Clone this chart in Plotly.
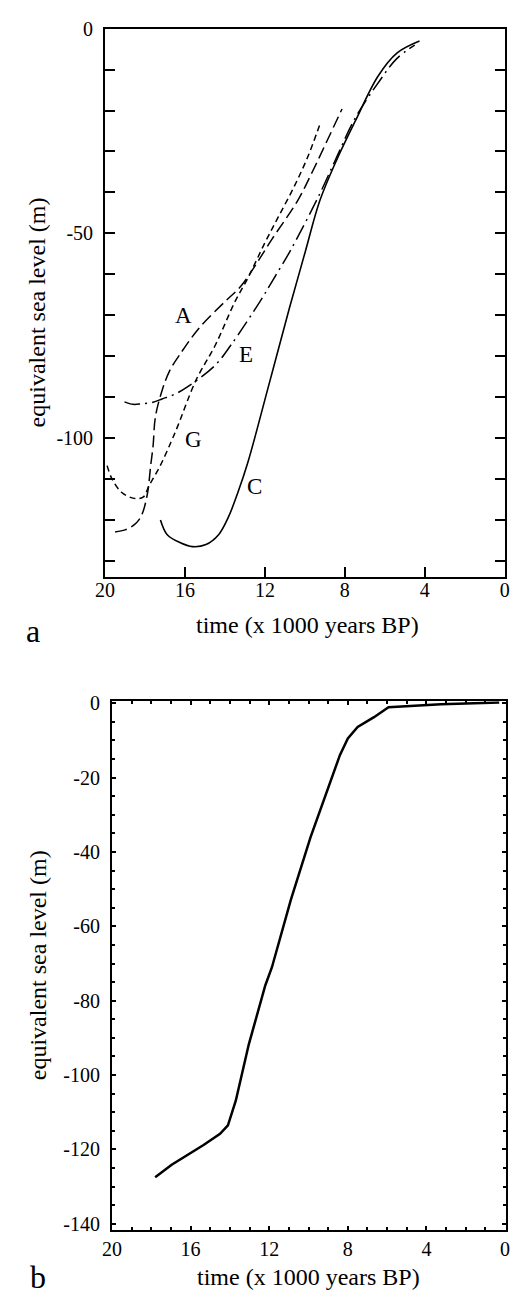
import plotly.graph_objects as go

# panel a: equivalent sea level curves (time in kyr BP, level in m)
t_A = [19.5, 19.0, 18.55, 18.3, 18.1, 17.87, 17.72, 17.6, 17.48, 17.14, 16.76, 16.27, 15.3, 14.0, 13.2, 12.5, 11.67, 10.36, 9.6, 8.9, 8.14]
v_A = [-123, -122.5, -121.3, -120, -118, -113.3, -106.8, -102, -94.8, -88.3, -83.5, -79.7, -73.2, -66.7, -62.9, -58, -51.6, -42, -34.7, -27.5, -19.6]

t_G = [19.9, 19.66, 19.18, 18.55, 18.1, 17.8, 17.24, 16.7, 16.37, 15.45, 14.48, 13.5, 12.88, 12.0, 11.33, 10.56, 9.88, 9.25]
v_G = [-106.8, -110, -113.3, -114.8, -114.5, -111.7, -106.8, -101, -97.2, -85.9, -77.3, -66.7, -61.2, -52.3, -46, -38.8, -31.6, -23.4]

t_E = [19.03, 18.6, 18.2, 17.6, 17.15, 16.5, 15.9, 14.5, 13.7, 12.25, 11.57, 10.7, 9.25, 8.43, 7.5, 6.3, 5.4, 4.5]
v_E = [-91.2, -91.8, -91.7, -91.3, -90.5, -89.3, -87.6, -82.3, -77.3, -66.7, -61.2, -54, -40.3, -31.6, -22, -13, -7.3, -4]

t_C = [17.23, 16.89, 16.26, 15.63, 14.95, 14.32, 13.83, 13.35, 12.86, 11.8, 10.78, 9.98, 9.25, 8.43, 7.46, 6.34, 5.38, 4.26]
v_C = [-120.1, -123.7, -125.6, -126.6, -126.1, -123.7, -119.4, -113.3, -106.1, -87, -68.4, -54.5, -42, -32.3, -22.4, -11.6, -5.9, -3]

# panel b: single curve
t_b = [17.8, 16.96, 15.34, 14.5, 14.1, 13.7, 13.04, 12.2, 11.86, 10.9, 9.9, 8.9, 8.4, 8.0, 7.5, 6.67, 5.93, 3.26, 0.3]
v_b = [-127.5, -124.1, -118.8, -115.8, -113.5, -106.9, -91.8, -75.9, -71, -52.9, -36.1, -21, -13.9, -9.5, -6.4, -3.75, -1.1, -0.3, 0.2]

labels_a = ["A", "E", "G", "C"]
label_t = [16.1, 12.96, 15.6, 12.5]
label_v = [-70, -79.7, -100.4, -112]

xticks = [20, 16, 12, 8, 4, 0]
yticks_b = [0, -20, -40, -60, -80, -100, -120, -140]

W, H = 511, 1295
FONT = "Liberation Serif"

def px(x):
  return x / W

def py(y):
  return 1 - y / H

fig = go.Figure()

fig.add_trace(go.Scatter(x=t_A, y=v_A, mode='lines', line=dict(color='black', width=1.5, dash='12px,5px', shape='spline'), xaxis='x', yaxis='y'))
fig.add_trace(go.Scatter(x=t_G, y=v_G, mode='lines', line=dict(color='black', width=1.5, dash='6px,4px', shape='spline'), xaxis='x', yaxis='y'))
fig.add_trace(go.Scatter(x=t_E, y=v_E, mode='lines', line=dict(color='black', width=1.5, dash='16px,5px,2px,5px', shape='spline'), xaxis='x', yaxis='y'))
fig.add_trace(go.Scatter(x=t_C, y=v_C, mode='lines', line=dict(color='black', width=1.6, shape='spline'), xaxis='x', yaxis='y'))
fig.add_trace(go.Scatter(x=t_b, y=v_b, mode='lines', line=dict(color='black', width=2.5), xaxis='x2', yaxis='y2'))

# curve labels in panel a
for lab, tx, vy in zip(labels_a, label_t, label_v):
  fig.add_annotation(x=tx, y=vy, xref='x', yref='y', text=lab, showarrow=False,
                     xanchor='center', yanchor='middle',
                     font=dict(family=FONT, size=23, color='black'))

tick_font = dict(family=FONT, size=20, color='black')

yvals_a = list(range(-130, 1, 10))
ytext_a = [str(v) if v in (0, -50, -100) else "" for v in yvals_a]

fig.update_layout(
  width=W, height=H,
  margin=dict(l=0, r=0, t=0, b=0),
  paper_bgcolor='white', plot_bgcolor='white',
  showlegend=False,
  xaxis=dict(domain=[px(98), px(510)], range=[20, -0.02], anchor='y',
             tickvals=xticks, ticktext=[str(v) for v in xticks],
             ticks='inside', ticklen=10, tickwidth=1.5, tickcolor='black',
             showline=True, linecolor='black', linewidth=2, mirror=True,
             showgrid=False, zeroline=False, tickfont=tick_font,
             ticklabelstandoff=-6, ticklabeloverflow='allow'),
  xaxis3=dict(overlaying='x', side='top', range=[20, -0.02], anchor='y',
              tickvals=[15, 10, 5], showticklabels=False,
              ticks='inside', ticklen=10, tickwidth=1.5, tickcolor='black',
              showline=False, showgrid=False, zeroline=False),
  yaxis=dict(domain=[py(573), py(18)], range=[-134, 0], anchor='x',
             tickvals=yvals_a, ticktext=ytext_a,
             ticks='inside', ticklen=10, tickwidth=1.5, tickcolor='black',
             showline=True, linecolor='black', linewidth=2, mirror='ticks',
             showgrid=False, zeroline=False, tickfont=tick_font,
             ticklabelstandoff=6, ticklabeloverflow='allow'),
  xaxis2=dict(domain=[px(105), px(510.5)], range=[20, -0.02], anchor='y2',
              tickvals=xticks, ticktext=[str(v) for v in xticks],
              ticks='inside', ticklen=4, tickwidth=1.5, tickcolor='black',
              minor=dict(dtick=1, ticks='inside', ticklen=3, tickcolor='black', showgrid=False),
              showline=True, linecolor='black', linewidth=2, mirror='ticks',
              showgrid=False, zeroline=False, tickfont=tick_font,
              ticklabelstandoff=0, ticklabeloverflow='allow'),
  yaxis2=dict(domain=[py(1234), py(699)], range=[-141.6, 0.5], anchor='x2',
              tickvals=yticks_b, ticktext=[str(v) for v in yticks_b],
              ticks='inside', ticklen=4, tickwidth=1.5, tickcolor='black',
              minor=dict(dtick=5, ticks='inside', ticklen=3, tickcolor='black', showgrid=False),
              showline=True, linecolor='black', linewidth=2, mirror='ticks',
              showgrid=False, zeroline=False, tickfont=tick_font,
              ticklabelstandoff=6, ticklabeloverflow='allow'),
)

# axis titles and panel letters, anchored at their centres
def note(x, y, text, size, angle=0):
  fig.add_annotation(x=px(x), y=py(y), xref='paper', yref='paper', text=text,
                     textangle=angle, showarrow=False, xanchor='center', yanchor='middle',
                     font=dict(family=FONT, size=size, color='black'))

note(28, 305, "equivalent sea level (m)", 24, -90)
note(307, 622, "time (x 1000 years BP)", 24)
note(24, 628, "a", 32)

note(29, 966, "equivalent sea level (m)", 24, -90)
note(308, 1282, "time (x 1000 years BP)", 24)
note(29, 1282, "b", 32)

fig.write_html("out.html", config={'displayModeBar': False},
               post_script="document.body.style.margin='0px'; document.body.style.overflow='hidden';")
